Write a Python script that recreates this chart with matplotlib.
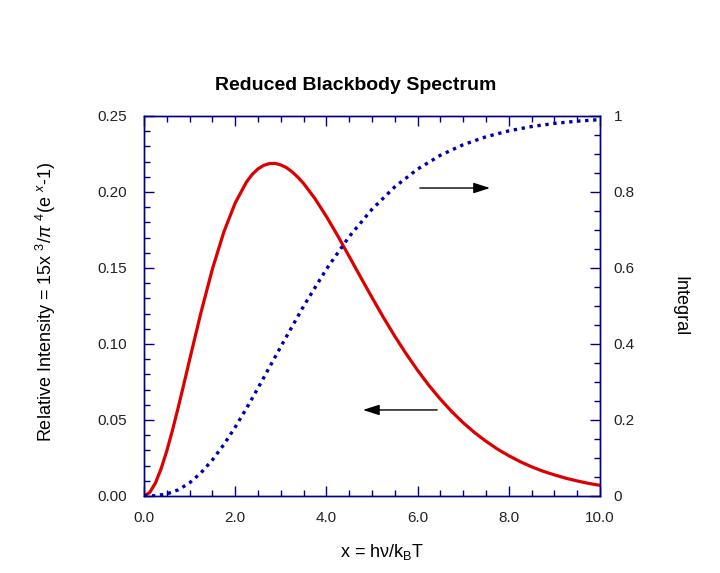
import matplotlib
matplotlib.use("Agg")
import matplotlib.pyplot as plt
from matplotlib.ticker import MultipleLocator, FormatStrFormatter

plt.rcParams['font.family'] = ['Liberation Sans', 'DejaVu Sans']
plt.rcParams['mathtext.fontset'] = 'custom'
plt.rcParams['mathtext.rm'] = 'Liberation Sans'
plt.rcParams['mathtext.it'] = 'Liberation Sans:italic'

# values
x_intensity = [0.0, 0.125, 0.25, 0.375, 0.5, 0.625, 0.75, 0.875, 1.0, 1.25, 1.5,
               1.75, 2.0, 2.25, 2.375, 2.5, 2.625, 2.75, 2.875, 3.0, 3.125, 3.25,
               3.375, 3.5, 3.75, 4.0, 4.25, 4.5, 4.75, 5.0, 5.25, 5.5, 5.75,
               6.0, 6.25, 6.5, 6.75, 7.0, 7.25, 7.5, 7.75, 8.0, 8.25, 8.5, 8.75,
               9.0, 9.25, 9.5, 9.75, 10.0]
intensity = [0.0, 0.0023, 0.0085, 0.0179, 0.0297, 0.0433, 0.0582, 0.0737, 0.0896,
             0.1208, 0.1493, 0.1736, 0.1928, 0.2067, 0.2116, 0.2152, 0.2175, 0.2187,
             0.2188, 0.2178, 0.2160, 0.2132, 0.2097, 0.2056, 0.1956, 0.1839, 0.1711,
             0.1576, 0.1440, 0.1306, 0.1175, 0.1051, 0.0935, 0.0827, 0.0727, 0.0637,
             0.0555, 0.0482, 0.0417, 0.0360, 0.0309, 0.0265, 0.0226, 0.0192, 0.0163,
             0.0139, 0.0117, 0.0099, 0.0083, 0.0070]

x_integral = [0.0, 0.25, 0.5, 0.75, 1.0, 1.25, 1.5, 1.75, 2.0, 2.25, 2.5, 2.75,
              3.0, 3.5, 4.0, 4.5, 5.0, 5.5, 6.0, 6.5, 7.0, 7.5, 8.0, 8.5, 9.0,
              9.5, 10.0]
integral = [0.0, 0.0007, 0.0053, 0.0162, 0.0346, 0.0610, 0.0948, 0.1352, 0.1811,
            0.2312, 0.2840, 0.3384, 0.3930, 0.4994, 0.5970, 0.6825, 0.7545, 0.8134,
            0.8602, 0.8966, 0.9244, 0.9453, 0.9608, 0.9722, 0.9804, 0.9863, 0.9905]

axis_color = '#000080'
red = '#DD0000'
blue = '#0000B0'
label_color = '#222222'

fig = plt.figure(figsize=(7.2, 5.73), dpi=100)
ax = fig.add_axes([0.2, 0.1344, 0.6333, 0.6632])
ax2 = ax.twinx()

ax.plot(x_intensity, intensity, color=red, lw=2.3, solid_capstyle='round', zorder=3)
ax2.plot(x_integral, integral, color=blue, lw=2.4, linestyle=(0, (1, 1.4)),
         dash_capstyle='butt')

ax.set_xlim(0, 10)
ax.set_ylim(0, 0.25)
ax2.set_ylim(0, 1)

ax.xaxis.set_major_locator(MultipleLocator(2))
ax.xaxis.set_minor_locator(MultipleLocator(0.5))
ax.xaxis.set_major_formatter(FormatStrFormatter('%.1f'))
ax.yaxis.set_major_locator(MultipleLocator(0.05))
ax.yaxis.set_minor_locator(MultipleLocator(0.01))
ax.yaxis.set_major_formatter(FormatStrFormatter('%.2f'))
ax2.yaxis.set_major_locator(MultipleLocator(0.2))
ax2.yaxis.set_minor_locator(MultipleLocator(0.05))
ax2.yaxis.set_major_formatter(plt.FuncFormatter(lambda v, p: '%g' % round(v, 2)))

for a in (ax, ax2):
    for s in a.spines.values():
        s.set_color(axis_color)
        s.set_linewidth(1.0)

ax.tick_params(axis='x', which='both', direction='in', top=True, color=axis_color,
               labelsize=11, pad=11, labelcolor=label_color)
ax.tick_params(axis='y', which='both', direction='in', color=axis_color,
               labelsize=11, pad=12, labelcolor=label_color)
ax.tick_params(which='major', length=7, width=1)
ax.tick_params(which='minor', length=4, width=1)
ax2.tick_params(axis='y', which='both', direction='in', color=axis_color,
                labelsize=11, pad=10, labelcolor=label_color)
ax2.tick_params(which='major', length=7, width=1)
ax2.tick_params(which='minor', length=4, width=1)

fig.text(356 / 720, 1 - 85 / 573, 'Reduced Blackbody Spectrum', fontsize=14,
         fontweight='bold', ha='center', va='center')
ax.set_xlabel('x = h\u03bd/k$_{\\rm B}$T', fontsize=13)
ax.xaxis.set_label_coords(0.522, -0.12)
ax.set_ylabel(r'Relative Intensity = 15x $^{3}$/$\pi$ $^{4}$(e $^{x}$-1)',
              fontsize=13)
ax.yaxis.set_label_coords(-0.189, 0.51)
ax2.set_ylabel('Integral', fontsize=13, rotation=-90, va='center')
ax2.yaxis.set_label_coords(1.175, 0.50)

arrow = dict(arrowstyle='-|>,head_length=1.0,head_width=0.32', color='black',
             lw=1, mutation_scale=10)
ax.annotate('', xy=(7.65, 0.2026), xytext=(5.99, 0.2026), arrowprops=arrow)
ax.annotate('', xy=(4.74, 0.0566), xytext=(6.49, 0.0566), arrowprops=arrow)

fig.savefig('out.png', dpi=100)
